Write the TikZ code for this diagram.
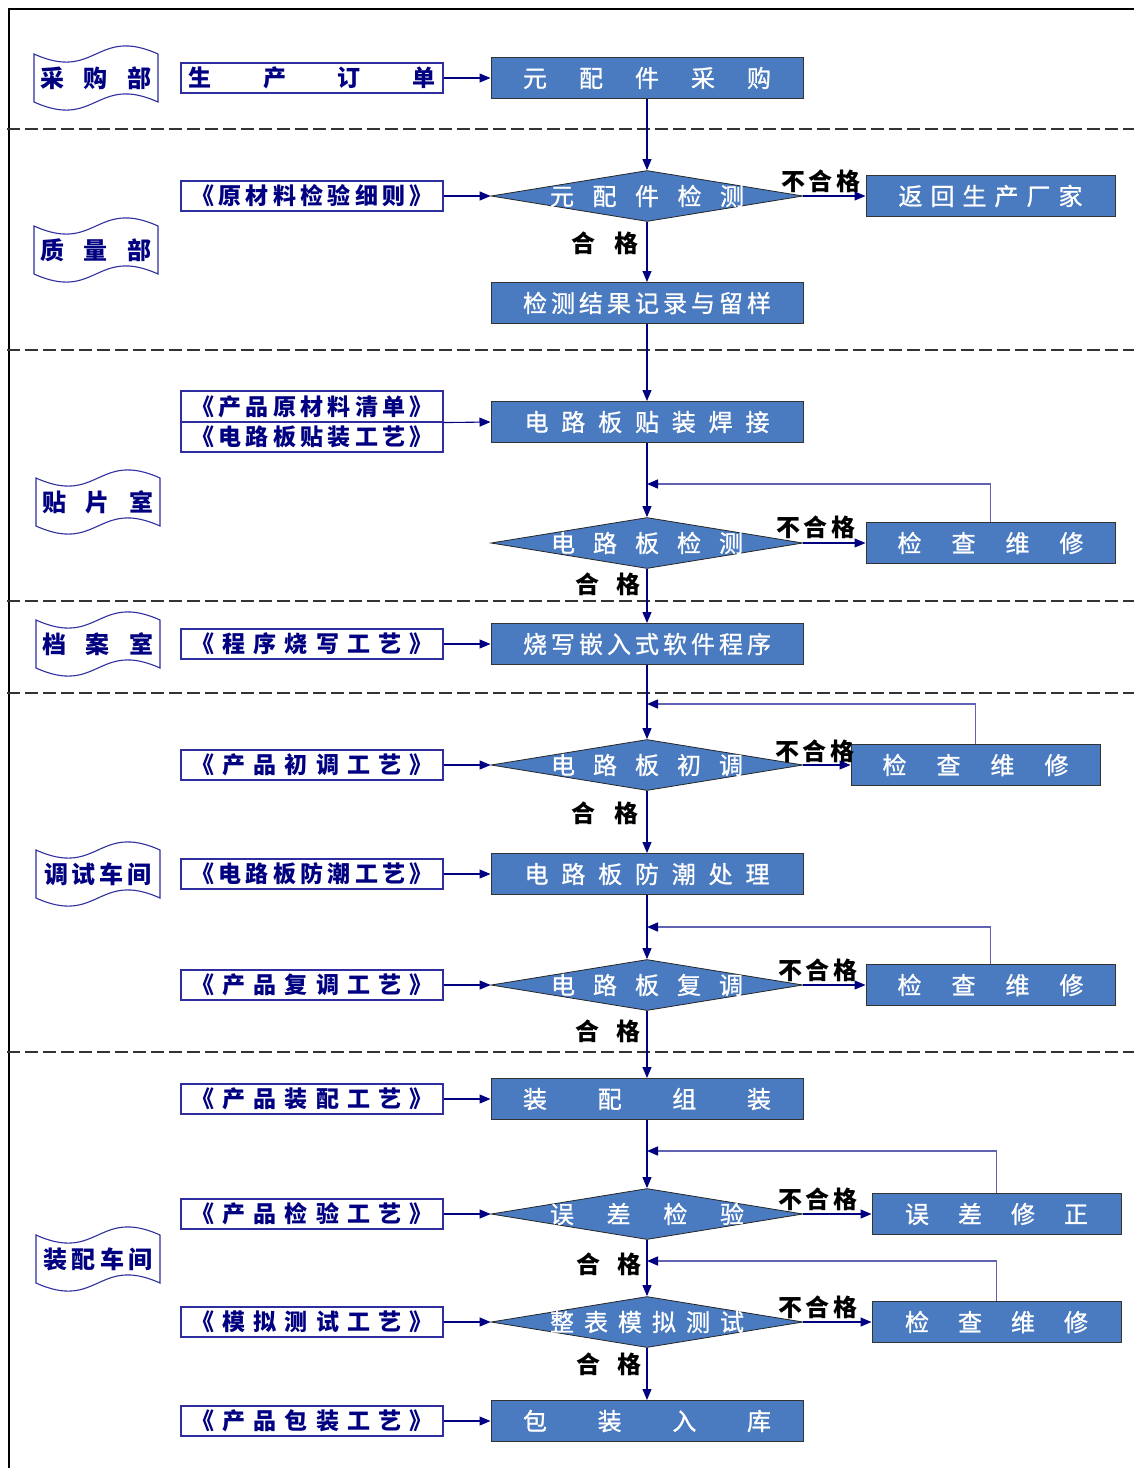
\documentclass[tikz,border=0pt]{standalone}
\usepackage{fontspec}
\setmainfont{Noto Sans CJK SC}
\newfontfamily\whitefont[FakeBold=1]{Noto Sans CJK SC}
\usetikzlibrary{shapes.geometric,arrows.meta,calc}
\definecolor{boxblue}{HTML}{4A7ABF}
\definecolor{navyc}{HTML}{000080}
\definecolor{fbc}{HTML}{6262B2}
\definecolor{docb}{HTML}{2E2EA0}
\def\spreadtext#1#2{\makebox[#1][s]{\spreadA#2\relax}}
\def\spreadA#1{#1\spreadB}
\def\spreadB#1{\ifx#1\relax\else\hfill#1\expandafter\spreadB\fi}
\tikzset{
 mainbox/.style={draw=black!80, line width=1pt, fill=boxblue, minimum width=312pt, minimum height=41pt, inner sep=0pt, text=white, font=\whitefont\fontsize{24}{26}\selectfont},
 sidebox/.style={mainbox, minimum width=249pt},
 decision/.style={diamond, draw=black!85, line width=0.8pt, fill=boxblue, minimum width=312pt, minimum height=51pt, inner sep=0pt, aspect=6},
 dectext/.style={text=white, font=\whitefont\fontsize{24}{26}\selectfont, inner sep=0pt},
 docbox/.style={draw=docb, line width=1.1pt, minimum width=262pt, minimum height=30pt, inner sep=0pt, text=navyc, font=\bfseries\fontsize{23}{25}\selectfont},
 dept/.style={inner sep=0pt, text=navyc, font=\bfseries\fontsize{24}{26}\selectfont},
 deptline/.style={draw=docb, line width=1.1pt},
 lab/.style={inner sep=0pt, font=\bfseries\fontsize{24}{26}\selectfont},
 flow/.style={draw=navyc, line width=1.1pt, -{Triangle[length=11pt,width=9pt]}},
 fb/.style={draw=fbc, line width=1.6pt, -{Triangle[length=11pt,width=9pt,color=navyc]}},
 sepline/.style={draw=black!80, line width=1.2pt, dash pattern=on 13pt off 5pt},
}
\newcommand\deptbox[5]{%
 \node[dept] (#1) at (#2,#3) {\spreadtext{#4}{#5}};
 \draw[deptline] ($(#1.center)+(-62,-24)$) .. controls ($(#1.center)+(0,4)$) and ($(#1.center)+(0,-52)$) .. ($(#1.center)+(62,-24)$) -- ($(#1.center)+(62,24)$) .. controls ($(#1.center)+(0,-4)$) and ($(#1.center)+(0,52)$) .. ($(#1.center)+(-62,24)$) -- cycle;}
\begin{document}
\begin{tikzpicture}[x=1pt,y=-1pt]
\useasboundingbox (0,0) rectangle (1134,1468);
% frame
\draw[black, line width=1.5pt] (9,1468) -- (9,9) -- (1134,9);
% separators
\foreach \yy in {129,350,601,693,1052} \draw[sepline] (7,\yy) -- (1134,\yy);
% departments
\deptbox{dp1}{96}{78}{111pt}{采购部}
\deptbox{dp2}{96}{250}{111pt}{质量部}
\deptbox{dp3}{98}{502}{112pt}{贴片室}
\deptbox{dp4}{98}{644}{112pt}{档案室}
\deptbox{dp5}{98}{874}{108pt}{调试车间}
\deptbox{dp6}{98}{1259}{110pt}{装配车间}
% documents
\node[docbox] (doc0) at (312,78) {\spreadtext{247pt}{生产订单}};
\node[docbox] (doc1) at (312,196) {\spreadtext{242pt}{《原材料检验细则》}};
\node[docbox, minimum height=31pt] (docA) at (312,406.5) {\spreadtext{242pt}{《产品原材料清单》}};
\node[docbox] (docB) at (312,437) {\spreadtext{242pt}{《电路板贴装工艺》}};
\node[docbox] (doc3) at (312,644) {\spreadtext{242pt}{《程序烧写工艺》}};
\node[docbox] (doc4) at (312,765) {\spreadtext{242pt}{《产品初调工艺》}};
\node[docbox] (doc5) at (312,874) {\spreadtext{242pt}{《电路板防潮工艺》}};
\node[docbox] (doc6) at (312,985) {\spreadtext{242pt}{《产品复调工艺》}};
\node[docbox] (doc7) at (312,1099) {\spreadtext{242pt}{《产品装配工艺》}};
\node[docbox] (doc8) at (312,1214) {\spreadtext{242pt}{《产品检验工艺》}};
\node[docbox] (doc9) at (312,1322) {\spreadtext{242pt}{《模拟测试工艺》}};
\node[docbox] (doc10) at (312,1421) {\spreadtext{242pt}{《产品包装工艺》}};
% main flow
\node[mainbox] (m1) at (647,78) {\spreadtext{248pt}{元配件采购}};
\node[decision, label={[dectext]center:\spreadtext{194pt}{元配件检测}}] (d1) at (647,196) {};
\node[sidebox] (ret) at (990.5,196) {\spreadtext{184pt}{返回生产厂家}};
\node[mainbox] (m2) at (647,303) {\spreadtext{248pt}{检测结果记录与留样}};
\node[mainbox] (m3) at (647,422) {\spreadtext{245pt}{电路板贴装焊接}};
\node[decision, label={[dectext]center:\spreadtext{192pt}{电路板检测}}] (d2) at (647,543) {};
\node[sidebox] (ck1) at (990.5,543) {\spreadtext{186pt}{检查维修}};
\node[mainbox] (m4) at (647,644) {\spreadtext{248pt}{烧写嵌入式软件程序}};
\node[decision, label={[dectext]center:\spreadtext{192pt}{电路板初调}}] (d3) at (647,765) {};
\node[sidebox] (ck2) at (975.5,765) {\spreadtext{186pt}{检查维修}};
\node[mainbox] (m5) at (647,874) {\spreadtext{245pt}{电路板防潮处理}};
\node[decision, label={[dectext]center:\spreadtext{192pt}{电路板复调}}] (d4) at (647,985) {};
\node[sidebox] (ck3) at (990.5,985) {\spreadtext{186pt}{检查维修}};
\node[mainbox] (m6) at (647,1099) {\spreadtext{248pt}{装配组装}};
\node[decision, label={[dectext]center:\spreadtext{194pt}{误差检验}}] (d5) at (647,1214) {};
\node[sidebox] (fix) at (996.5,1214) {\spreadtext{183pt}{误差修正}};
\node[decision, label={[dectext]center:\spreadtext{194pt}{整表模拟测试}}] (d6) at (647,1322) {};
\node[sidebox] (ck4) at (996.5,1322) {\spreadtext{183pt}{检查维修}};
\node[mainbox] (m7) at (647,1421) {\spreadtext{248pt}{包装入库}};
% labels
\node[lab] (n1) at (821,181) {\spreadtext{80pt}{不合格}};
\node[lab] (n2) at (816,527) {\spreadtext{80pt}{不合格}};
\node[lab] (n3) at (815,751) {\spreadtext{80pt}{不合格}};
\node[lab] (n4) at (818,970) {\spreadtext{80pt}{不合格}};
\node[lab] (n5) at (818,1199) {\spreadtext{80pt}{不合格}};
\node[lab] (n6) at (818,1307) {\spreadtext{80pt}{不合格}};
\node[lab] (p1) at (605,243) {\spreadtext{67pt}{合格}};
\node[lab] (p2) at (608,584) {\spreadtext{65pt}{合格}};
\node[lab] (p3) at (605,813) {\spreadtext{67pt}{合格}};
\node[lab] (p4) at (608,1031) {\spreadtext{65pt}{合格}};
\node[lab] (p5) at (609,1264) {\spreadtext{65pt}{合格}};
\node[lab] (p6) at (609,1364) {\spreadtext{65pt}{合格}};
% feedback coordinates
\coordinate (f1) at (647,484);
\coordinate (f2) at (647,704);
\coordinate (f3) at (647,927);
\coordinate (f4) at (647,1151);
\coordinate (f5) at (647,1261);
% doc arrows
\draw[flow] (doc0) -- (m1);
\draw[flow] (doc1) -- (d1);
\draw[flow] (docA.south east) -- (m3.west);
\draw[flow] (doc3) -- (m4);
\draw[flow] (doc4) -- (d3);
\draw[flow] (doc5) -- (m5);
\draw[flow] (doc6) -- (d4);
\draw[flow] (doc7) -- (m6);
\draw[flow] (doc8) -- (d5);
\draw[flow] (doc9) -- (d6);
\draw[flow] (doc10) -- (m7);
% main flow arrows
\draw[flow] (m1) -- (d1);
\draw[flow] (d1) -- (ret);
\draw[flow] (d1) -- (m2);
\draw[flow] (m2) -- (m3);
\draw[flow] (m3) -- (d2);
\draw[flow] (d2) -- (ck1);
\draw[flow] (d2) -- (m4);
\draw[flow] (m4) -- (d3);
\draw[flow] (d3) -- (ck2);
\draw[flow] (d3) -- (m5);
\draw[flow] (m5) -- (d4);
\draw[flow] (d4) -- (ck3);
\draw[flow] (d4) -- (m6);
\draw[flow] (m6) -- (d5);
\draw[flow] (d5) -- (fix);
\draw[flow] (d5) -- (d6);
\draw[flow] (d6) -- (ck4);
\draw[flow] (d6) -- (m7);
% feedback loops
\draw[fb] (ck1.north) |- (f1);
\draw[fb] (ck2.north) |- (f2);
\draw[fb] (ck3.north) |- (f3);
\draw[fb] (fix.north) |- (f4);
\draw[fb] (ck4.north) |- (f5);
\end{tikzpicture}
\end{document}
